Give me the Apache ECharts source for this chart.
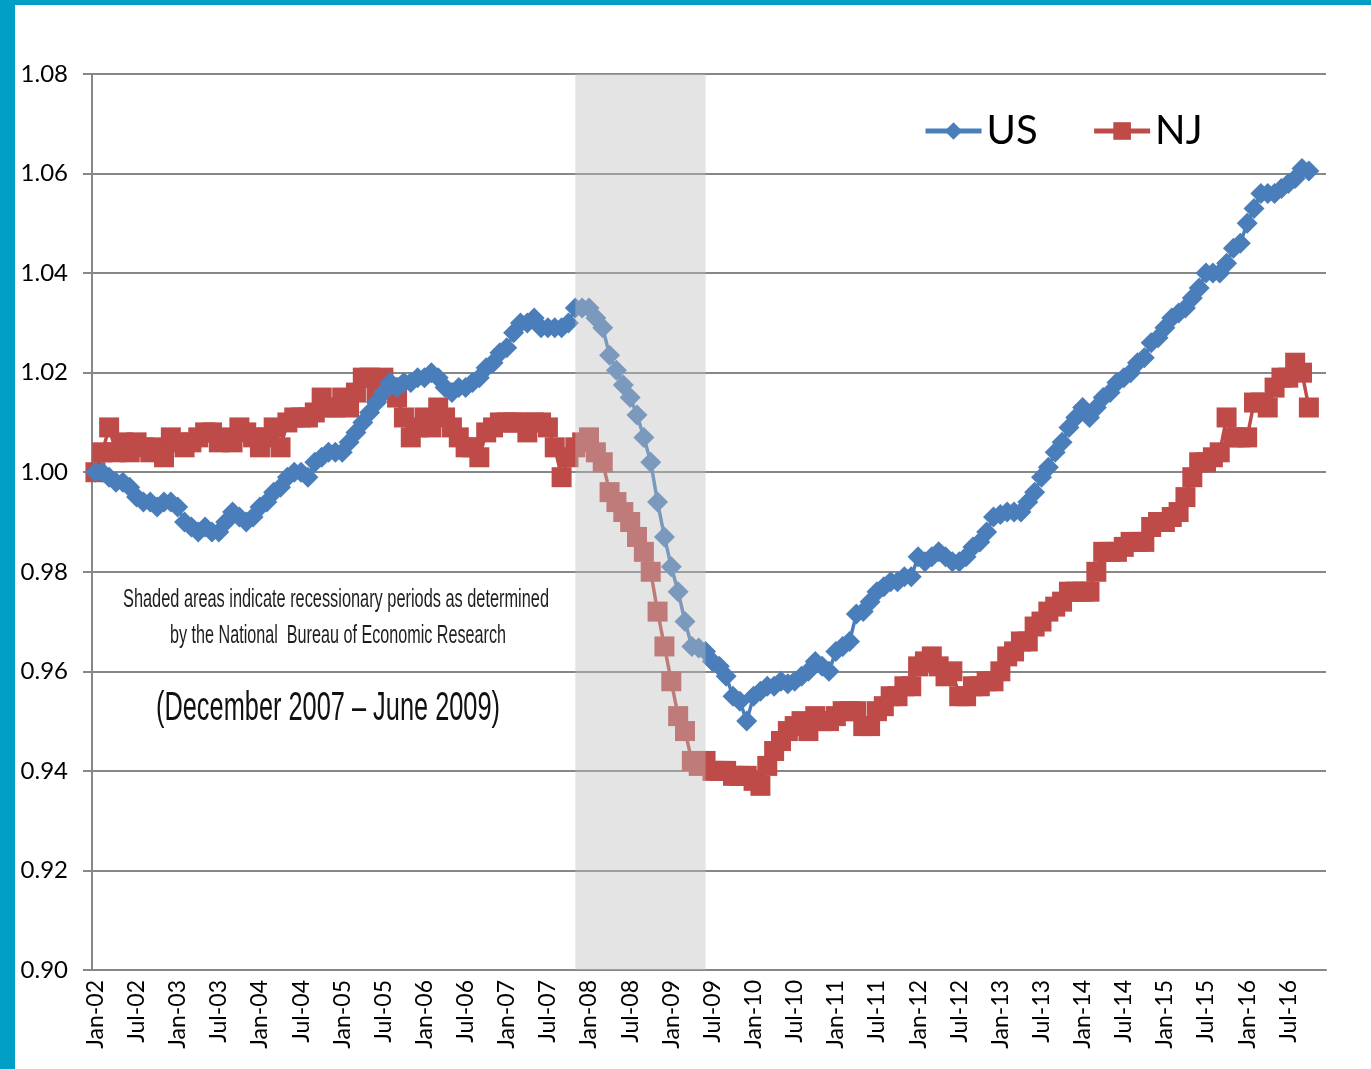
<!DOCTYPE html>
<html>
<head>
<meta charset="utf-8">
<script src="https://cdn.jsdelivr.net/npm/echarts@6/dist/echarts.min.js"></script>
<style>
  html, body { margin: 0; padding: 0; background: #fff; }
  #main { width: 1371px; height: 1069px; }
</style>
</head>
<body>
<div id="main"></div>
<script>
var chartDom = document.getElementById('main');
var myChart = echarts.init(chartDom);
var option;

// month labels Jan-02 .. Dec-16
const monthNames = ['Jan', 'Feb', 'Mar', 'Apr', 'May', 'Jun', 'Jul', 'Aug', 'Sep', 'Oct', 'Nov', 'Dec'];
const years = ['02', '03', '04', '05', '06', '07', '08', '09', '10', '11', '12', '13', '14', '15', '16'];
const months = [];
years.forEach(function (y) {
  monthNames.forEach(function (m) {
    months.push(m + '-' + y);
  });
});

// employment index, Jan-02 = 1.00
const us = [
  1.000, 1.000, 0.999, 0.998, 0.998, 0.997, 0.995, 0.994, 0.994, 0.993, 0.994, 0.994,
  0.993, 0.990, 0.989, 0.988, 0.989, 0.988, 0.988, 0.990, 0.992, 0.991, 0.990, 0.991,
  0.993, 0.994, 0.996, 0.997, 0.999, 1.000, 1.000, 0.999, 1.002, 1.003, 1.004, 1.004,
  1.004, 1.006, 1.008, 1.010, 1.012, 1.014, 1.016, 1.018, 1.017, 1.018, 1.018, 1.019,
  1.019, 1.020, 1.019, 1.017, 1.016, 1.017, 1.017, 1.018, 1.019, 1.021, 1.022, 1.024,
  1.025, 1.028, 1.030, 1.030, 1.031, 1.029, 1.029, 1.029, 1.029, 1.030, 1.033, 1.033,
  1.033, 1.031, 1.029, 1.0235, 1.0205, 1.0175, 1.015, 1.0115, 1.007, 1.002, 0.994, 0.987,
  0.981, 0.976, 0.970, 0.965, 0.9647, 0.964, 0.962, 0.961, 0.959, 0.955, 0.954, 0.950,
  0.955, 0.956, 0.957, 0.957, 0.958, 0.9575, 0.958, 0.959, 0.960, 0.962, 0.961, 0.960,
  0.964, 0.965, 0.966, 0.9715, 0.972, 0.974, 0.976, 0.977, 0.978, 0.978, 0.979, 0.979,
  0.983, 0.982, 0.983, 0.984, 0.983, 0.982, 0.982, 0.983, 0.985, 0.986, 0.988, 0.991,
  0.9915, 0.992, 0.992, 0.992, 0.994, 0.996, 0.999, 1.001, 1.004, 1.006, 1.009, 1.011,
  1.013, 1.011, 1.013, 1.015, 1.016, 1.018, 1.019, 1.020, 1.022, 1.023, 1.026, 1.027,
  1.029, 1.031, 1.032, 1.033, 1.035, 1.037, 1.040, 1.040, 1.040, 1.042, 1.045, 1.046,
  1.050, 1.053, 1.056, 1.056, 1.056, 1.057, 1.058, 1.059, 1.061, 1.0605
];
const nj = [
  1.000, 1.004, 1.009, 1.004, 1.006, 1.004, 1.006, 1.005, 1.004, 1.005, 1.003, 1.007,
  1.006, 1.005, 1.006, 1.007, 1.008, 1.008, 1.006, 1.007, 1.006, 1.009, 1.008, 1.007,
  1.005, 1.007, 1.009, 1.005, 1.010, 1.011, 1.011, 1.011, 1.012, 1.015, 1.013, 1.013,
  1.015, 1.013, 1.016, 1.019, 1.019, 1.016, 1.019, 1.017, 1.015, 1.011, 1.007, 1.009,
  1.011, 1.009, 1.013, 1.011, 1.009, 1.007, 1.005, 1.005, 1.003, 1.008, 1.009, 1.010,
  1.010, 1.010, 1.010, 1.008, 1.010, 1.010, 1.009, 1.005, 0.999, 1.003, 1.005, 1.006,
  1.007, 1.004, 1.002, 0.996, 0.994, 0.992, 0.990, 0.987, 0.984, 0.980, 0.972, 0.965,
  0.958, 0.951, 0.948, 0.942, 0.941, 0.942, 0.940, 0.940, 0.940, 0.939, 0.939, 0.939,
  0.938, 0.937, 0.941, 0.944, 0.946, 0.948, 0.949, 0.950, 0.948, 0.951, 0.950, 0.950,
  0.951, 0.952, 0.952, 0.952, 0.949, 0.949, 0.952, 0.953, 0.955, 0.955, 0.957, 0.957,
  0.961, 0.962, 0.963, 0.961, 0.959, 0.960, 0.955, 0.955, 0.957, 0.957, 0.958, 0.958,
  0.960, 0.963, 0.964, 0.966, 0.966, 0.969, 0.970, 0.972, 0.973, 0.974, 0.976, 0.976,
  0.976, 0.976, 0.980, 0.984, 0.984, 0.984, 0.985, 0.986, 0.986, 0.986, 0.989, 0.990,
  0.990, 0.991, 0.992, 0.995, 0.999, 1.002, 1.002, 1.003, 1.004, 1.011, 1.007, 1.007,
  1.007, 1.014, 1.014, 1.013, 1.017, 1.019, 1.019, 1.022, 1.020, 1.013
];
// NBER recession shading (drawn over the lines)
const recession = ['Nov-07', 'Jun-09'];

const labelFont = 'Lato, "Open Sans", sans-serif';
const noteFont = '"Liberation Sans", Arial, sans-serif';
const gridColor = '#878787';

// squeeze a text to a given width (the note uses a narrow face)
function narrowText(text, size, cx, cy, width, color) {
  var ctx = document.createElement('canvas').getContext('2d');
  ctx.font = size + 'px ' + noteFont;
  var w = ctx.measureText(text).width;
  return {
    type: 'text',
    x: cx,
    y: cy,
    scaleX: width / w,
    style: {
      text: text, textAlign: 'center', textVerticalAlign: 'middle',
      fontSize: size, fontFamily: noteFont, fill: color
    }
  };
}

option = {
  animation: false,
  backgroundColor: '#fff',
  grid: { left: 92, right: 45, top: 74, bottom: 99 },
  legend: {
    left: 918,
    top: 106,
    itemGap: 54,
    itemWidth: 56,
    itemHeight: 22,
    lineStyle: { width: 5 },
    textStyle: { fontSize: 40, color: '#000', fontFamily: labelFont },
    data: ['US', 'NJ']
  },
  xAxis: {
    type: 'category',
    data: months,
    boundaryGap: true,
    axisLine: { lineStyle: { color: gridColor, width: 2 } },
    axisTick: { interval: 5, length: 7, lineStyle: { color: gridColor, width: 2 } },
    axisLabel: {
      interval: 5,
      rotate: 90,
      fontSize: 23,
      color: '#000',
      fontFamily: labelFont,
      margin: 10
    }
  },
  yAxis: {
    type: 'value',
    min: 0.9,
    max: 1.08,
    interval: 0.02,
    axisLine: { show: true, lineStyle: { color: gridColor, width: 2 } },
    axisTick: { show: true, length: 9, lineStyle: { color: gridColor, width: 2 } },
    splitLine: { lineStyle: { color: gridColor, width: 2 } },
    axisLabel: {
      formatter: function (v) { return v.toFixed(2); },
      fontSize: 24,
      color: '#000',
      fontFamily: labelFont,
      margin: 24
    }
  },
  graphic: [
    { type: 'rect', left: 0, top: 0, z: 100, shape: { width: 15, height: 1069 }, style: { fill: '#00a0c6' } },
    { type: 'rect', left: 0, top: 0, z: 100, shape: { width: 1371, height: 5 }, style: { fill: '#00a0c6' } },
    narrowText('Shaded areas indicate recessionary periods as determined', 25, 336, 600, 426, '#1e1e1e'),
    narrowText('by the National  Bureau of Economic Research', 25, 338, 636, 336, '#1e1e1e'),
    narrowText('(December 2007 \u2013 June 2009)', 40, 328, 709, 344, '#111')
  ],
  series: [
    {
      name: 'US',
      type: 'line',
      data: us,
      z: 3,
      showAllSymbol: true,
      symbol: 'diamond',
      symbolSize: 21,
      lineStyle: { color: '#4a7ebb', width: 3.5 },
      itemStyle: { color: '#4a7ebb' },
      emphasis: { disabled: true }
    },
    {
      name: 'NJ',
      type: 'line',
      data: nj,
      z: 2,
      showAllSymbol: true,
      symbol: 'rect',
      symbolSize: 20,
      lineStyle: { color: '#be4b48', width: 3.5 },
      itemStyle: { color: '#be4b48' },
      emphasis: { disabled: true }
    },
    {
      name: 'recession',
      type: 'line',
      data: [],
      z: 10,
      silent: true,
      markArea: {
        silent: true,
        z: 10,
        itemStyle: { color: 'rgba(190,190,190,0.42)' },
        data: [[{ xAxis: recession[0] }, { xAxis: recession[1] }]]
      }
    }
  ]
};

option && myChart.setOption(option);
</script>
</body>
</html>
